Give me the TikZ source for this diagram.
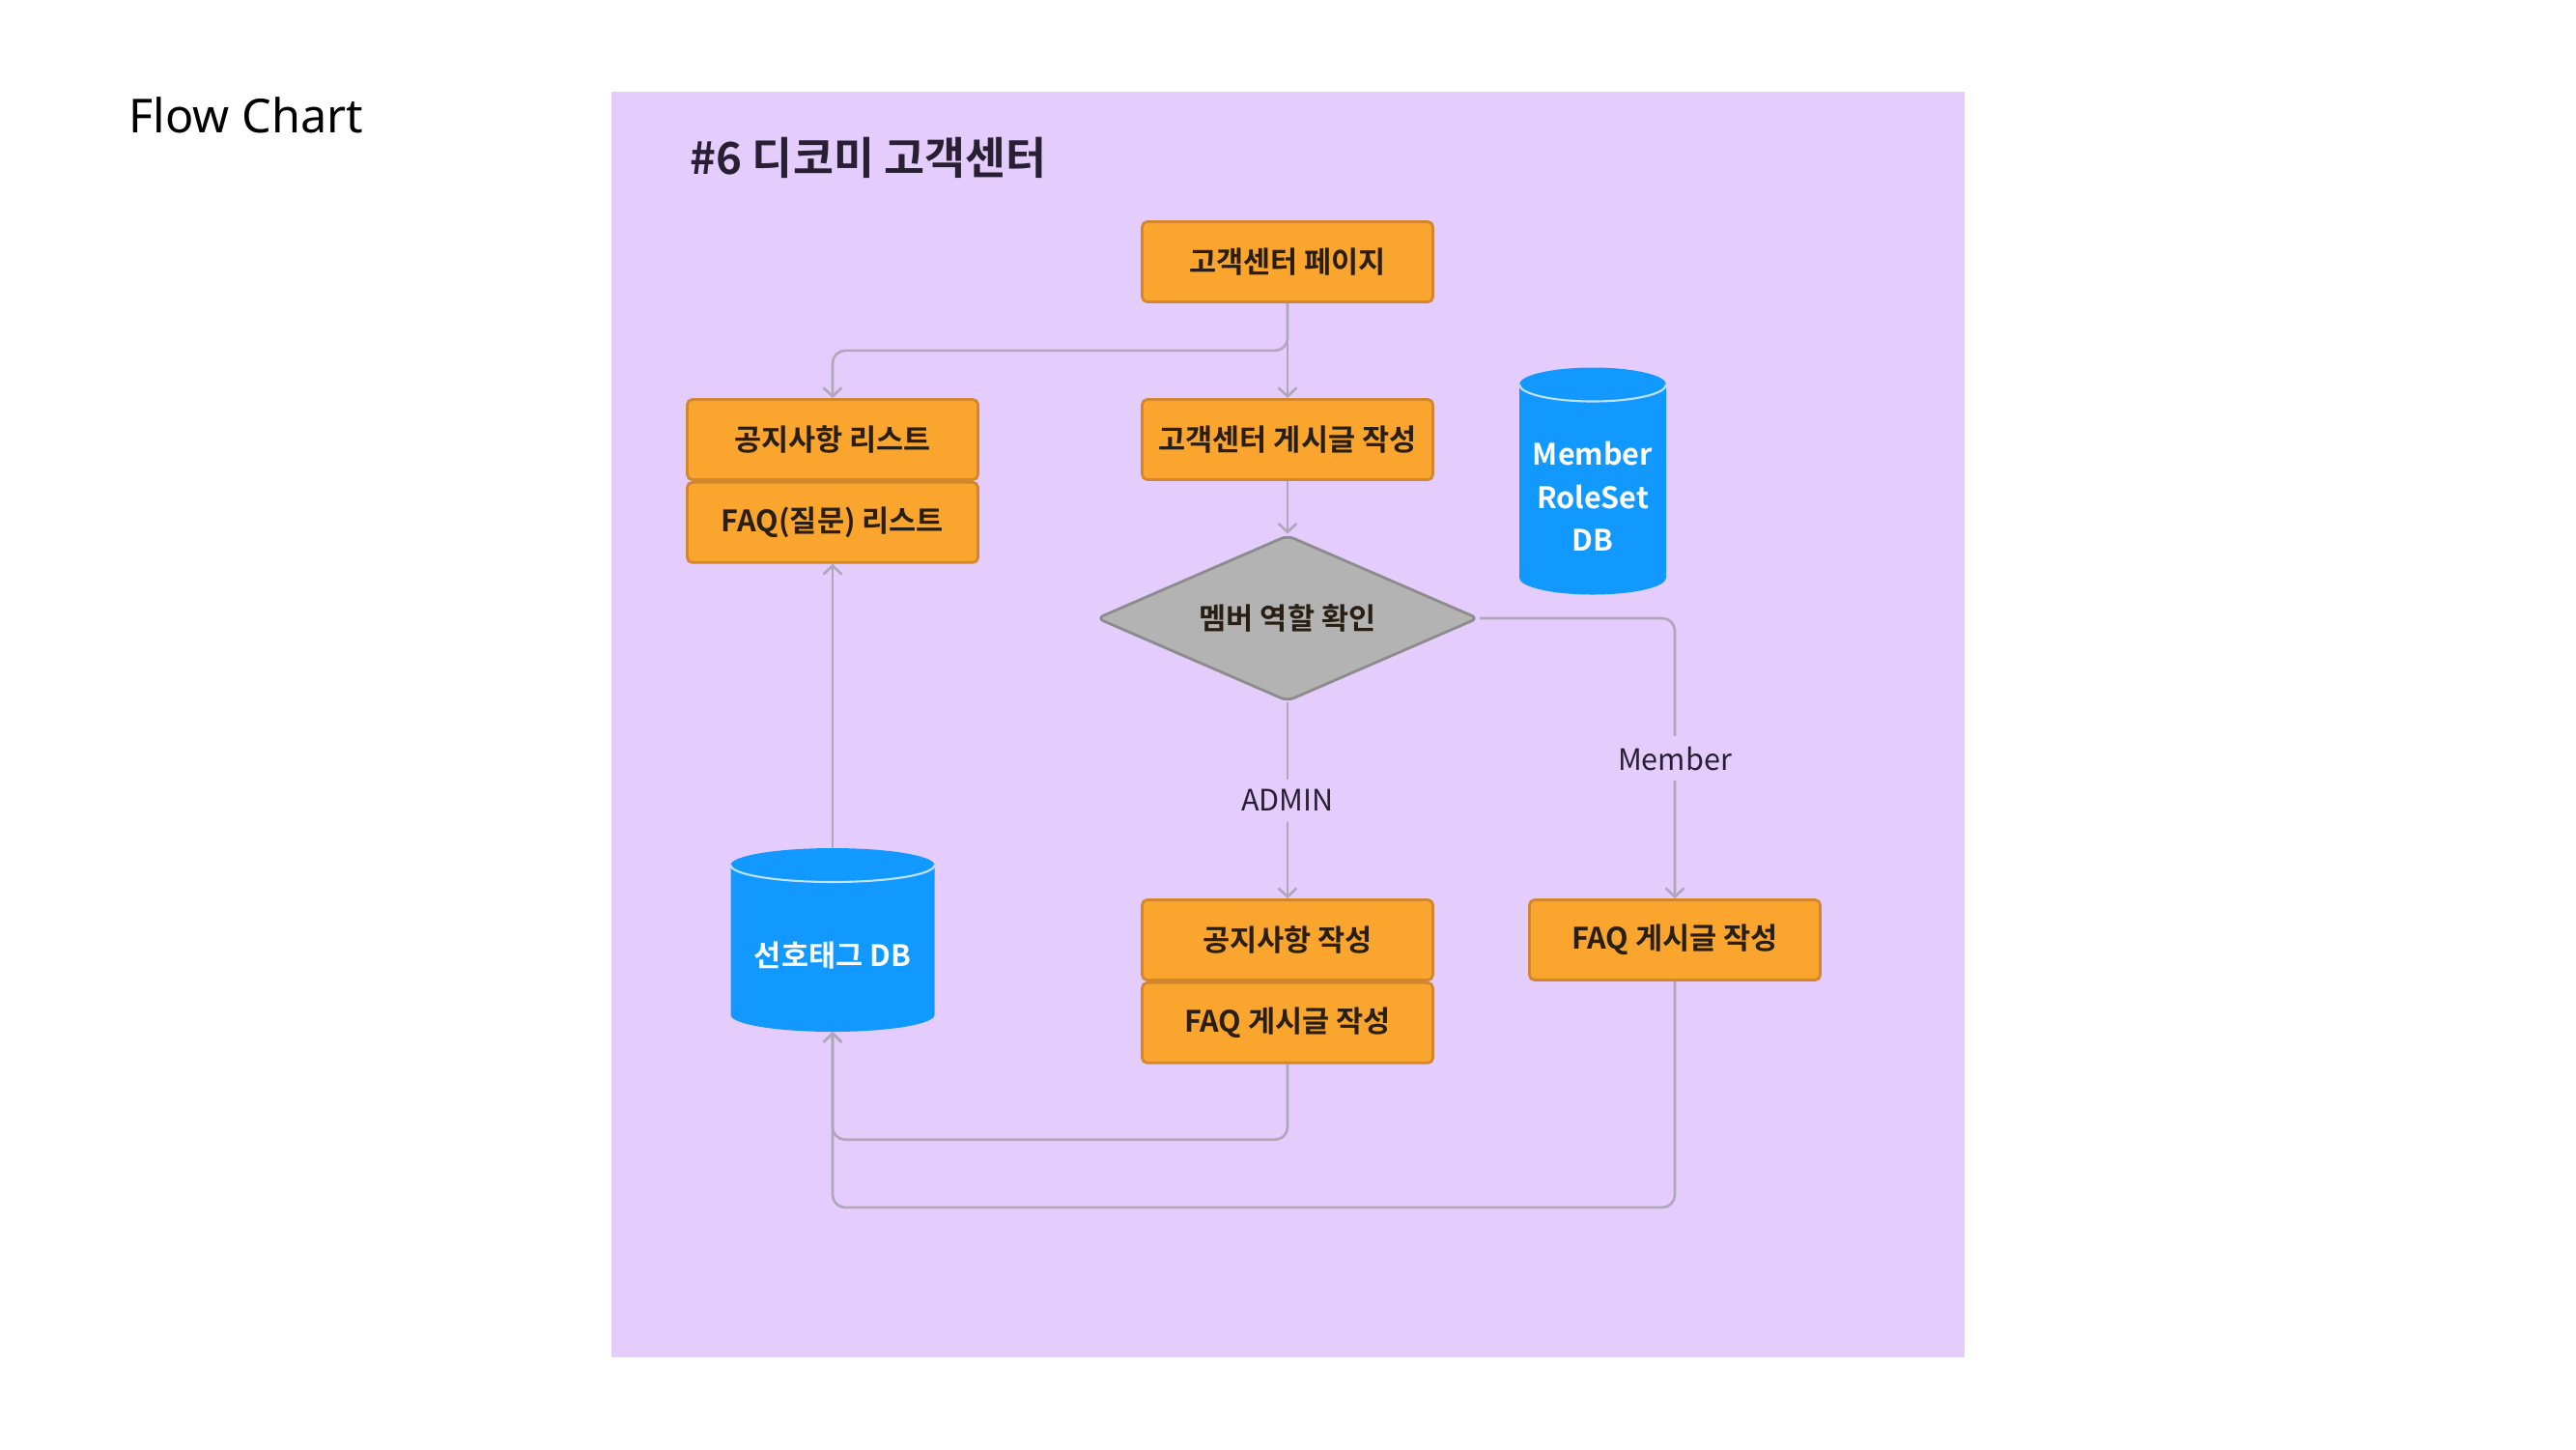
\documentclass[tikz,border=0pt]{standalone}
\usepackage{fontspec}
\setmainfont{Noto Sans}
\newfontfamily\krfont{Noto Sans CJK KR}[BoldFont={Noto Sans CJK KR Bold}]
\usetikzlibrary{positioning,shapes.geometric,arrows.meta}

\definecolor{panelbg}{RGB}{228,205,252}
\definecolor{boxfill}{RGB}{250,165,45}
\definecolor{boxline}{RGB}{210,135,45}
\definecolor{dbblue}{RGB}{18,153,255}
\definecolor{dbedge}{RGB}{190,225,255}
\definecolor{decfill}{RGB}{179,179,179}
\definecolor{decline}{RGB}{140,140,140}
\definecolor{flowline}{RGB}{176,168,186}
\definecolor{inkdark}{RGB}{40,30,20}
\definecolor{labelink}{RGB}{40,32,50}

\tikzset{
  stepbox/.style={draw=boxline, fill=boxfill, line width=0.8pt, rounded corners=1.5pt,
    minimum width=3.01cm, minimum height=0.83cm, inner sep=0pt, text=inkdark,
    font=\krfont\bfseries\fontsize{8.7}{10}\selectfont},
  decision/.style={diamond, aspect=2.3, draw=decline, fill=decfill, line width=0.8pt,
    rounded corners=2pt, minimum width=3.95cm, minimum height=1.72cm, inner sep=0pt,
    text=inkdark, font=\krfont\bfseries\fontsize{8.7}{10}\selectfont},
  dbbox/.style={rectangle, inner sep=0pt, outer sep=0pt},
  dbtext/.style={text=white, align=center, yshift=-0.16cm,
    font=\krfont\bfseries\fontsize{8.7}{12.6}\selectfont},
  flow/.style={draw=flowline, line width=0.75pt, rounded corners=0.13cm},
  branch/.style={fill=panelbg, text=labelink, inner sep=3pt,
    font=\krfont\fontsize{8.7}{10}\selectfont},
}

\newcommand{\drawdb}[2]{%
  \fill[dbblue] ([yshift=-0.175cm]#1.north west) -- ([yshift=0.175cm]#1.south west)
    arc[start angle=180, end angle=360, x radius=#2, y radius=0.175cm]
    -- ([yshift=-0.175cm]#1.north east)
    arc[start angle=0, end angle=180, x radius=#2, y radius=0.175cm] -- cycle;
  \draw[dbedge, line width=0.6pt] ([yshift=-0.175cm]#1.north west)
    arc[start angle=180, end angle=360, x radius=#2, y radius=0.175cm];
}

\begin{document}
\begin{tikzpicture}[>={Straight Barb[length=0.9mm, width=1.9mm]}]
            \fill[white] (0,0) rectangle (26.67,-15);
            \useasboundingbox (0,0) rectangle (26.67,-15);
            \fill[panelbg] (6.33,-0.95) rectangle (20.34,-14.05);

            \node[anchor=west, inner sep=0pt, font=\fontsize{13.8}{16}\selectfont] (charttitle) at (1.33,-1.19) {Flow Chart};
            \node[anchor=west, inner sep=0pt, text=labelink, font=\krfont\bfseries\fontsize{13}{15}\selectfont] (paneltitle) at (7.14,-1.63) {\#6 디코미 고객센터};

            \node[stepbox] (page) at (13.33,-2.71) {고객센터 페이지};
            \node[stepbox] (noticelist) at (8.62,-4.55) {공지사항 리스트};
            \node[stepbox, below=0pt of noticelist] (faqlist) {FAQ(질문) 리스트};
            \node[stepbox] (writepost) at (13.33,-4.55) {고객센터 게시글 작성};
            \node[decision] (rolecheck) at (13.33,-6.40) {멤버 역할 확인};
            \node[stepbox] (noticewrite) at (13.33,-9.73) {공지사항 작성};
            \node[stepbox, below=0pt of noticewrite] (faqwrite) {FAQ 게시글 작성};
            \node[stepbox] (faqmember) at (17.34,-9.73) {FAQ 게시글 작성};

            \node[dbbox, minimum width=1.52cm, minimum height=2.35cm] (roledb) at (16.49,-4.98) {};
            \drawdb{roledb}{0.76cm}
            \node[dbtext] at (roledb) {Member\\RoleSet\\DB};
            \node[dbbox, minimum width=2.11cm, minimum height=1.9cm] (tagdb) at (8.62,-9.73) {};
            \drawdb{tagdb}{1.055cm}
            \node[dbtext] at (tagdb) {선호태그 DB};

            \draw[flow, ->] (page.south) -- (writepost.north);
            \draw[flow, ->] (page.south) -- ++(0,-0.49) -| (noticelist.north);
            \draw[flow, ->] (writepost.south) -- (rolecheck.north);
            \draw[flow, ->] (rolecheck.south) -- node[branch] {ADMIN} (noticewrite.north);
            \draw[flow, ->] (rolecheck.east) -| node[branch, pos=0.75] {Member} (faqmember.north);
            \draw[flow, ->] (tagdb.north) -- (faqlist.south);
            \draw[flow, ->] (faqwrite.south) -- ++(0,-0.78) -| (tagdb.south);
            \draw[flow, ->] (faqmember.south) -- ++(0,-2.34) -| (tagdb.south);
        \end{tikzpicture}
\end{document}
